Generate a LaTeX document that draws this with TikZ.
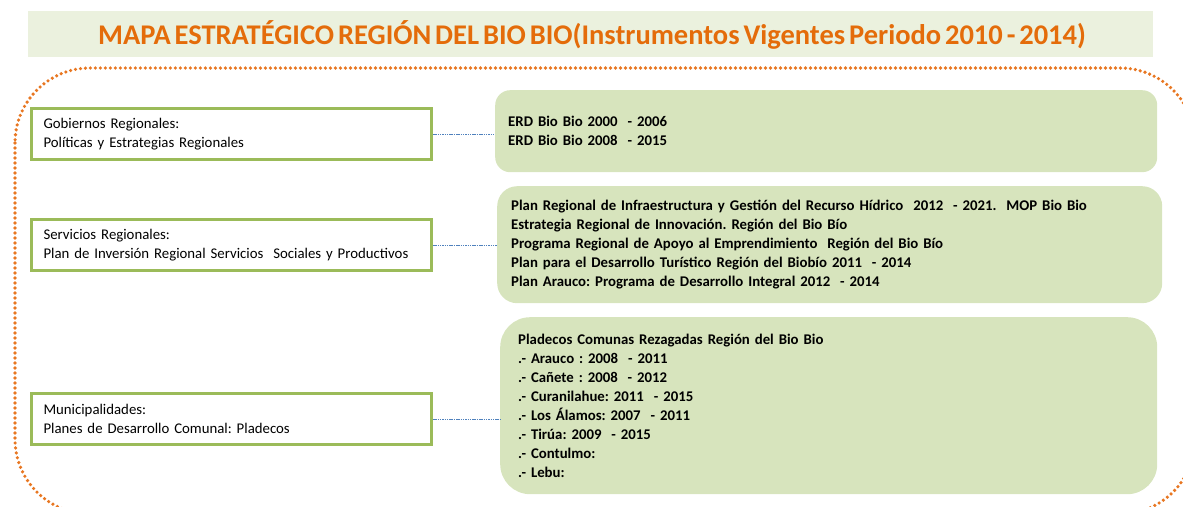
\documentclass[tikz,border=0pt]{standalone}
\usepackage{fontspec}
\setmainfont[WordSpace=0.6]{Carlito}
\frenchspacing
\definecolor{titleor}{HTML}{E46C0A}
\definecolor{dotor}{HTML}{E87722}
\definecolor{banner}{HTML}{EBF1DE}
\definecolor{gfill}{HTML}{D7E4BD}
\definecolor{gborder}{HTML}{9BBB59}
\definecolor{conn}{HTML}{4F81BD}
\tikzset{
  leftbox/.style={draw=gborder, line width=3pt, fill=white, anchor=north west,
    minimum width=400pt, minimum height=51pt, inner xsep=12pt, text width=376pt,
    align=left, font=\fontsize{14.8}{19}\selectfont},
  rightbox/.style={fill=gfill, anchor=north west, inner xsep=13pt, align=left,
    font=\bfseries\fontsize{14.8}{19}\selectfont},
  connline/.style={draw=conn, line width=0.6pt, dash pattern=on 1.5pt off 0.8pt},
  dotline/.style={draw=dotor, line width=3.6pt, line cap=round, dash pattern=on 0pt off 5pt},
}
\begin{document}
\begin{tikzpicture}[x=1pt,y=-1pt]
\useasboundingbox (0,0) rectangle (1183,506);
% banner
\node[fill=banner, anchor=north west, minimum width=1125pt, minimum height=46pt, inner sep=0pt] (banner) at (28,11) {};
\node[text=titleor, font=\bfseries\fontsize{28.5}{34}\selectfont] (title) at (592,34.5)
  {MAPA ESTRATÉGICO REGIÓN DEL BIO BIO(Instrumentos Vigentes Periodo 2010 - 2014)};
% dotted outline
\draw[dotline, rounded corners=75pt] (15,68) rectangle (1195,514);
% left boxes
\node[leftbox] (b1) at (30,107) {Gobiernos Regionales:\\Políticas y Estrategias Regionales};
\node[leftbox] (b2) at (30,218) {Servicios Regionales:\\Plan de Inversión Regional Servicios\ \ Sociales y Productivos};
\node[leftbox] (b3) at (30,392) {Municipalidades:\\Planes de Desarrollo Comunal: Pladecos};
% right boxes
\node[rightbox, rounded corners=15pt, minimum width=662pt, minimum height=82pt, text width=636pt] (r1) at (495,90)
  {ERD Bio Bio 2000\ \ - 2006\\ERD Bio Bio 2008\ \ - 2015};
\node[rightbox, rounded corners=20pt, minimum width=665pt, minimum height=117pt, text width=637pt, inner xsep=14pt] (r2) at (497,186)
  {Plan Regional de Infraestructura y Gestión del Recurso Hídrico\ \ 2012\ \ - 2021.\ \ MOP Bio Bio\\
   Estrategia Regional de Innovación. Región del Bio Bío\\
   Programa Regional de Apoyo al Emprendimiento\ \ Región del Bio Bío\\
   Plan para el Desarrollo Turístico Región del Biobío 2011\ \ - 2014\\
   Plan Arauco: Programa de Desarrollo Integral 2012\ \ - 2014};
\node[rightbox, rounded corners=30pt, minimum width=657pt, minimum height=177pt, text width=621pt, inner xsep=18pt] (r3) at (500,317)
  {Pladecos Comunas Rezagadas Región del Bio Bio\\
   .- Arauco : 2008\ \ - 2011\\
   .- Cañete : 2008\ \ - 2012\\
   .- Curanilahue: 2011\ \ - 2015\\
   .- Los Álamos: 2007\ \ - 2011\\
   .- Tirúa: 2009\ \ - 2015\\
   .- Contulmo:\\
   .- Lebu:};
% connectors
\draw[connline] (b1.east) -- (b1.east -| r1.west);
\draw[connline] (b2.east) -- (b2.east -| r2.west);
\draw[connline] (b3.east) -- (b3.east -| r3.west);
\end{tikzpicture}
\end{document}
